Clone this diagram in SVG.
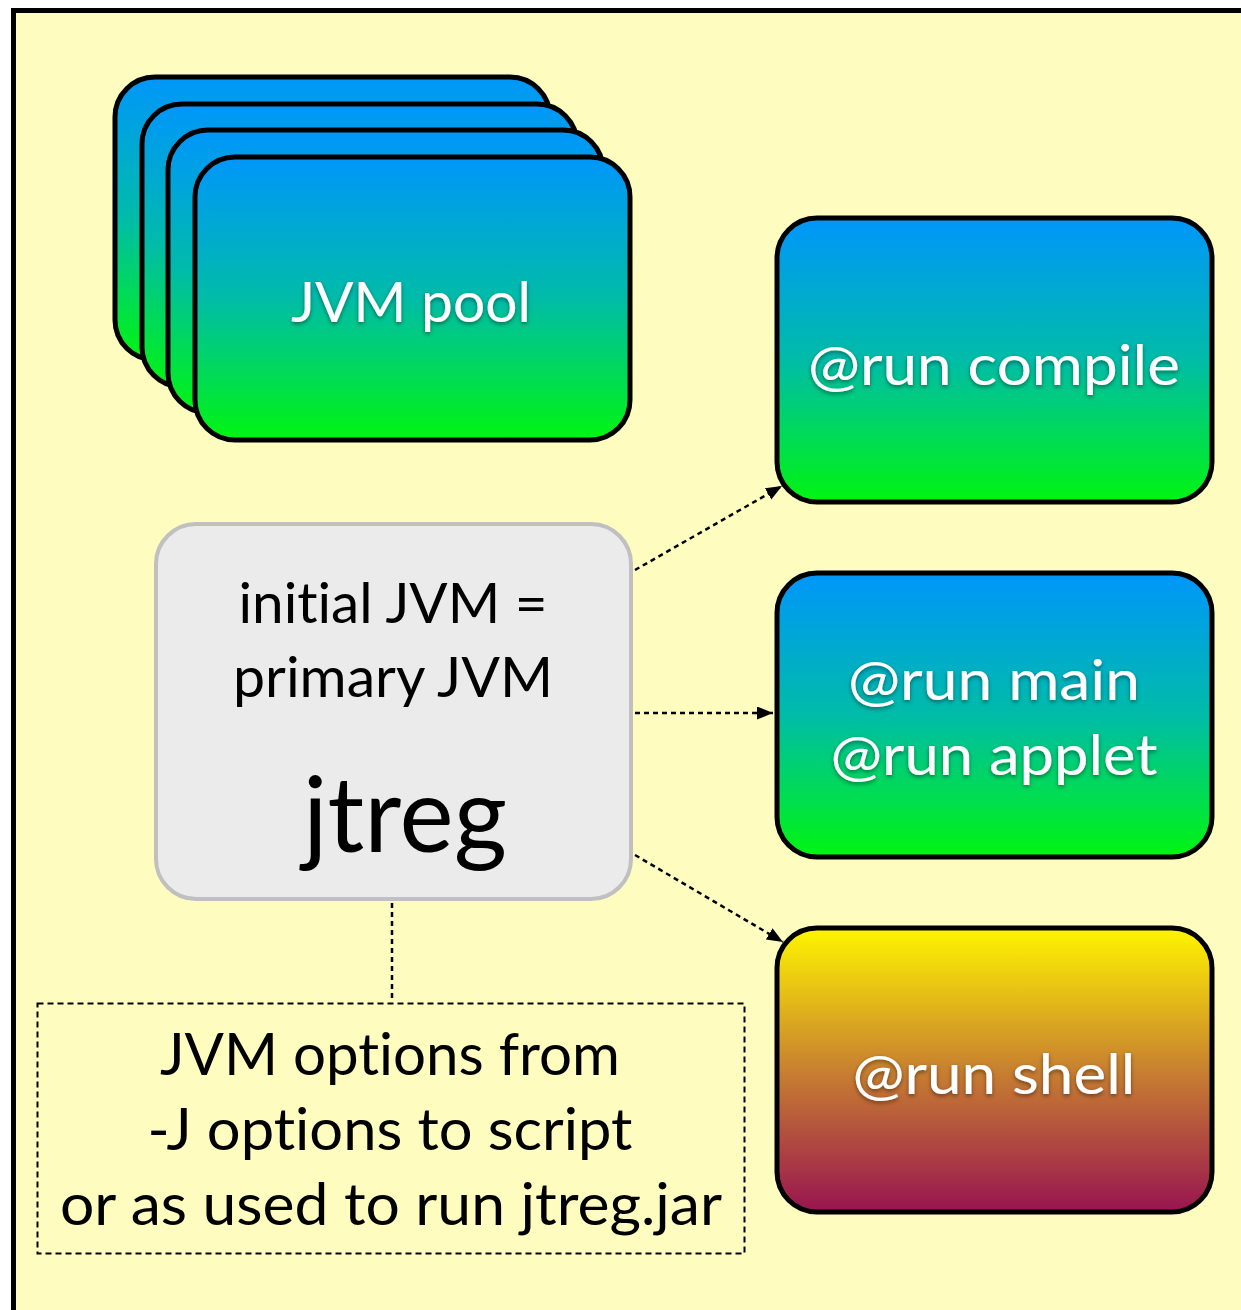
<svg xmlns="http://www.w3.org/2000/svg" width="1241" height="1310" viewBox="0 0 1241 1310">
<style>
.box{stroke:#000;stroke-width:5}
.wt{font-family:Lato,"Open Sans",sans-serif;fill:#fff;text-anchor:middle;font-size:56px;filter:url(#sh);font-variant-ligatures:none}
.bt{font-family:Lato,"Open Sans",sans-serif;fill:#000;text-anchor:middle;font-size:56px;font-variant-ligatures:none}
.big{font-size:104px}
.opt{font-size:58px}
.con{stroke:#000;stroke-width:2.5;stroke-dasharray:5 4;fill:none}
</style>
<defs>
<linearGradient id="bg" x1="0" y1="0" x2="0" y2="1">
<stop offset="0" stop-color="#0096fb"/>
<stop offset="0.5" stop-color="#00bca8"/>
<stop offset="1" stop-color="#00f510"/>
</linearGradient>
<linearGradient id="yg" x1="0" y1="0" x2="0" y2="1">
<stop offset="0" stop-color="#fff500"/>
<stop offset="0.5" stop-color="#c88030"/>
<stop offset="1" stop-color="#981450"/>
</linearGradient>
<filter id="sh" x="-10%" y="-20%" width="120%" height="150%">
<feDropShadow dx="0" dy="2" stdDeviation="2" flood-color="#000" flood-opacity="0.45"/>
</filter>
<marker id="ah" markerUnits="userSpaceOnUse" markerWidth="18" markerHeight="14" refX="16" refY="6.5" orient="auto">
<path d="M0,0 L16,6.5 L0,13 z" fill="#000"/>
</marker>
</defs>
<rect x="0" y="0" width="1241" height="1310" fill="#fff"/>
<rect x="13.5" y="10.5" width="1300" height="1400" fill="#fefcbe" stroke="#000" stroke-width="5"/>

<g id="jvm-pool">
<rect class="box" x="115" y="77" width="435" height="283" rx="40" fill="url(#bg)"/>
<rect class="box" x="142" y="104" width="435" height="283" rx="40" fill="url(#bg)"/>
<rect class="box" x="168" y="130" width="435" height="283" rx="40" fill="url(#bg)"/>
<rect class="box" x="195" y="157" width="435" height="283" rx="40" fill="url(#bg)"/>
<text class="wt" x="411" y="322" textLength="240" lengthAdjust="spacingAndGlyphs">JVM pool</text>
</g>

<g id="run-compile">
<rect class="box" x="777" y="218" width="435" height="284" rx="40" fill="url(#bg)"/>
<text class="wt" x="994" y="385" textLength="372" lengthAdjust="spacingAndGlyphs">@run compile</text>
</g>

<g id="run-main">
<rect class="box" x="777" y="573" width="435" height="284" rx="40" fill="url(#bg)"/>
<text class="wt" x="994" y="700" textLength="292" lengthAdjust="spacingAndGlyphs">@run main</text>
<text class="wt" x="994" y="775" textLength="327" lengthAdjust="spacingAndGlyphs">@run applet</text>
</g>

<g id="run-shell">
<rect class="box" x="777" y="928" width="435" height="284" rx="40" fill="url(#yg)"/>
<text class="wt" x="994" y="1094" textLength="283" lengthAdjust="spacingAndGlyphs">@run shell</text>
</g>

<g id="jtreg">
<rect x="156" y="524" width="475" height="375" rx="40" fill="#ebebeb" stroke="#c0c0c0" stroke-width="4"/>
<text class="bt" x="393" y="623" textLength="309" lengthAdjust="spacingAndGlyphs">initial JVM =</text>
<text class="bt" x="393" y="697" textLength="320" lengthAdjust="spacingAndGlyphs">primary JVM</text>
<text class="bt big" x="405" y="852" textLength="204" lengthAdjust="spacingAndGlyphs">jtreg</text>
</g>

<g id="jvm-options">
<rect x="37.5" y="1003.5" width="707" height="250" fill="none" stroke="#000" stroke-width="2" stroke-dasharray="6 4"/>
<text class="bt opt" x="390" y="1075" textLength="460" lengthAdjust="spacingAndGlyphs">JVM options from</text>
<text class="bt opt" x="390" y="1150" textLength="485" lengthAdjust="spacingAndGlyphs">-J options to script</text>
<text class="bt opt" x="391" y="1225" textLength="662" lengthAdjust="spacingAndGlyphs">or as used to run jtreg.jar</text>
</g>

<g id="connectors">
<line class="con" x1="635" y1="570" x2="782" y2="486" marker-end="url(#ah)"/>
<line class="con" x1="635" y1="713" x2="773" y2="713" marker-end="url(#ah)"/>
<line class="con" x1="635" y1="855" x2="783" y2="942" marker-end="url(#ah)"/>
<line class="con" x1="392" y1="903" x2="392" y2="1002"/>
</g>
</svg>
